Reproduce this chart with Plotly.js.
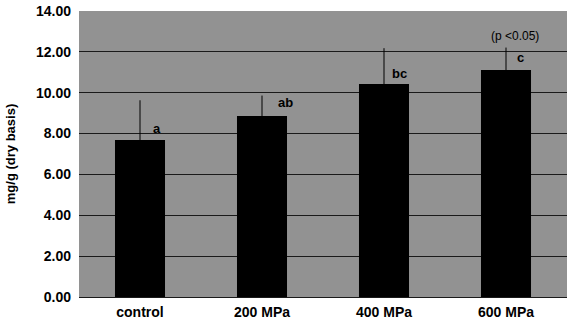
<!DOCTYPE html>
<html>
<head>
<meta charset="utf-8">
<script src="https://cdn.plot.ly/plotly-3.0.1.min.js"></script>
<style>html,body{margin:0;padding:0;background:#fff;}#chart{width:568px;height:320px;}</style>
</head>
<body>
<div id="chart"></div>
<script>
const categories = ["control", "200 MPa", "400 MPa", "600 MPa"];
const values = [7.68, 8.86, 10.43, 11.11];
const errors = [1.95, 1.0, 1.75, 1.1];
const letters = ["a", "ab", "bc", "c"];
const letterY = [8.27, 9.5, 10.96, 11.7];
const letterOffset = [0.14, 0.19, 0.13, 0.12];
const yTicks = [0, 2, 4, 6, 8, 10, 12, 14];
const yTickText = yTicks.map(v => v.toFixed(2));
const noteText = "(p <0.05)";

const trace = {
  type: "bar",
  x: categories,
  y: values,
  marker: {color: "#000000", line: {width: 0}},
  error_y: {type: "data", array: errors, visible: true, color: "#000000", thickness: 1, width: 0},
  hoverinfo: "none"
};

const annotations = letters.map((t, i) => ({
  x: i + letterOffset[i], y: letterY[i], xref: "x", yref: "y",
  text: "<b>" + t + "</b>", showarrow: false,
  font: {family: "Liberation Sans, Arial, sans-serif", size: 13, color: "#000"}
}));
annotations.push({
  x: 3.07, y: 12.8, xref: "x", yref: "y", text: noteText, showarrow: false,
  font: {family: "Liberation Sans, Arial, sans-serif", size: 12, color: "#000"}
});

const layout = {
  width: 568, height: 320,
  margin: {l: 79, r: 1, t: 11, b: 23},
  paper_bgcolor: "#ffffff",
  plot_bgcolor: "#929292",
  bargap: 0.59,
  showlegend: false,
  font: {family: "Liberation Sans, Arial, sans-serif", color: "#000"},
  xaxis: {
    type: "category",
    showgrid: false, zeroline: false, showline: false,
    ticks: "", tickfont: {size: 14, weight: "bold"},
    ticklabelstandoff: 5
  },
  yaxis: {
    range: [0, 14], tickvals: yTicks, ticktext: yTickText,
    showgrid: true, gridcolor: "#1a1a1a", gridwidth: 1,
    zeroline: true, zerolinecolor: "#1a1a1a", zerolinewidth: 1,
    showline: false, ticks: "",
    tickfont: {size: 14, weight: "bold"},
    ticklabelstandoff: 7,
    title: {text: "<b>mg/g (dry basis)</b>", font: {size: 13}, standoff: 17}
  },
  annotations: annotations
};

Plotly.newPlot("chart", [trace], layout, {staticPlot: true, displayModeBar: false});
</script>
</body>
</html>
